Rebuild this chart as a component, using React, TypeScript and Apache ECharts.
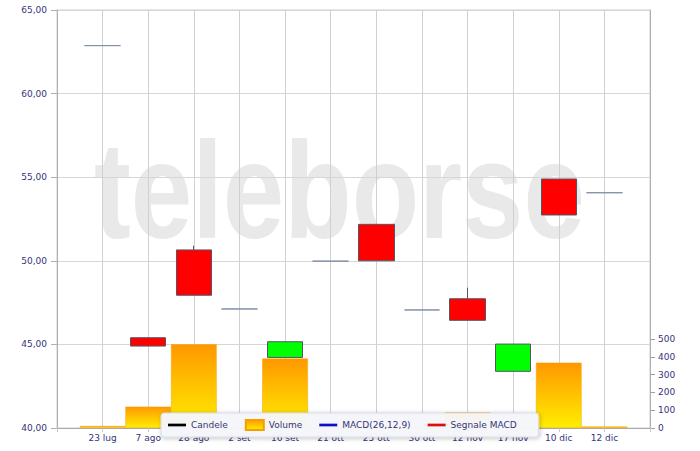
import React, { useEffect, useRef } from "react";
import * as echarts from "echarts";

const dates = ["23 lug", "7 ago", "28 ago", "2 set", "16 set", "21 ott", "25 ott", "30 ott", "12 nov", "17 nov", "10 dic", "12 dic"];
const opens = [62.87, 45.4, 50.65, 47.12, 44.22, 49.98, 52.18, 47.06, 47.73, 43.39, 54.89, 54.07];
const closes = [62.87, 44.9, 47.94, 47.12, 45.16, 49.98, 50.0, 47.06, 46.44, 45.02, 52.74, 54.07];
const lows = [62.87, 44.9, 47.94, 47.12, 44.22, 49.98, 50.0, 47.06, 46.44, 43.39, 52.74, 54.07];
const highs = [62.87, 45.4, 50.9, 47.12, 45.16, 49.98, 52.18, 47.06, 48.39, 45.02, 54.89, 54.07];
const volumes = [11, 120, 470, 0, 390, 0, 0, 0, 88, 0, 367, 8];
const volumeTicks = [0, 100, 200, 300, 400, 500];

const labelColor = "#34347a";
const font = "DejaVu Sans";

export default function App() {
  const ref = useRef<HTMLDivElement>(null);
  useEffect(() => {
    if (!ref.current) return;
    const chart = echarts.init(ref.current, null, { renderer: "svg" });
    const axisCats = ["", ...dates, ""];
    const candleData = dates.map((_, i) => [i + 1, opens[i], closes[i], lows[i], highs[i]]);
    const volData = dates.map((_, i) => [i + 1, volumes[i]]);
    const lineIcon = "path://M0,0H20V3H0Z";
    chart.setOption({
      animation: false,
      backgroundColor: "#ffffff",
      textStyle: { fontFamily: font },
      graphic: [
        {
          type: "text",
          x: 94,
          y: 259,
          scaleX: 0.8,
          z: -10,
          silent: true,
          style: {
            text: "teleborse",
            fontSize: 138,
            fontWeight: "bold",
            fontFamily: "Liberation Sans",
            fill: "#e9e9e9",
            textAlign: "left",
            textVerticalAlign: "bottom",
          },
        },
      ],
      grid: { left: 57, right: 50, top: 10, bottom: 23, show: true, borderColor: "#cfcfcf", borderWidth: 1 },
      legend: {
        left: 161,
        top: 413,
        padding: [6, 22, 6, 7],
        itemGap: 17,
        itemWidth: 18,
        itemHeight: 10,
        backgroundColor: "rgba(246,247,250,0.97)",
        borderColor: "#d8dbe2",
        borderWidth: 1,
        borderRadius: 3,
        shadowBlur: 4,
        shadowColor: "rgba(0,0,0,0.25)",
        shadowOffsetX: 1,
        shadowOffsetY: 1,
        textStyle: { color: labelColor, fontSize: 9, fontFamily: font },
        data: [
          { name: "Candele", icon: lineIcon, itemStyle: { color: "#000000", borderColor: "#000000", borderWidth: 0 } },
          { name: "Volume", icon: "rect" },
          { name: "MACD(26,12,9)", icon: lineIcon, itemStyle: { color: "#1010c8" } },
          { name: "Segnale MACD", icon: lineIcon, itemStyle: { color: "#d81010" } },
        ],
      },
      xAxis: {
        type: "category",
        data: axisCats,
        boundaryGap: false,
        axisLine: { show: true, lineStyle: { color: "#aaaaaa" } },
        axisTick: { show: true, length: 4, interval: 0, lineStyle: { color: "#c8c8d0" } },
        axisLabel: { color: labelColor, fontSize: 9, fontFamily: font, margin: 5, interval: 0 },
        splitLine: { show: true, interval: 0, lineStyle: { color: "#cfcfd6" } },
      },
      yAxis: [
        {
          type: "value",
          min: 40,
          max: 65,
          interval: 5,
          axisLine: { show: true, lineStyle: { color: "#b0b0b0" } },
          axisTick: { show: true, length: 6, lineStyle: { color: "#b0b0b0" } },
          axisLabel: {
            color: labelColor,
            fontSize: 9,
            fontFamily: font,
            margin: 10,
            formatter: (v: number) => v.toFixed(2).replace(".", ","),
          },
          splitLine: { show: true, lineStyle: { color: "#d6d6d6" } },
        },
        {
          type: "value",
          position: "right",
          min: 0,
          max: 2348,
          interval: 100,
          axisLine: { show: true, lineStyle: { color: "#b0b0b0" } },
          axisTick: { show: true, length: 5, customValues: volumeTicks, lineStyle: { color: "#a0a0a0" } },
          axisLabel: { color: labelColor, fontSize: 9, fontFamily: font, margin: 8, customValues: volumeTicks },
          splitLine: { show: false },
        },
      ],
      series: [
        {
          name: "Volume",
          type: "bar",
          yAxisIndex: 1,
          barWidth: 45.6,
          z: 2,
          data: volData,
          encode: { x: 0, y: 1 },
          itemStyle: {
            color: new echarts.graphic.LinearGradient(0, 0, 0, 1, [
              { offset: 0, color: "#ff9800" },
              { offset: 1, color: "#ffee00" },
            ]),
            borderColor: "#f5a000",
            borderWidth: 0.5,
          },
        },
        {
          name: "Candele",
          type: "candlestick",
          z: 3,
          barWidth: 36,
          data: candleData,
          encode: { x: 0, y: [1, 2, 3, 4] },
          itemStyle: {
            color: "#00ff00",
            color0: "#ff0000",
            borderColor: "#555566",
            borderColor0: "#555566",
            borderColorDoji: "#8090a6",
            borderWidth: 1,
          },
        },
        { name: "MACD(26,12,9)", type: "line", data: [], itemStyle: { color: "#1010c8" } },
        { name: "Segnale MACD", type: "line", data: [], itemStyle: { color: "#d81010" } },
      ],
    });
    return () => chart.dispose();
  }, []);
  return <div ref={ref} style={{ width: 700, height: 451, position: "absolute", left: 0, top: 0 }} />;
}
